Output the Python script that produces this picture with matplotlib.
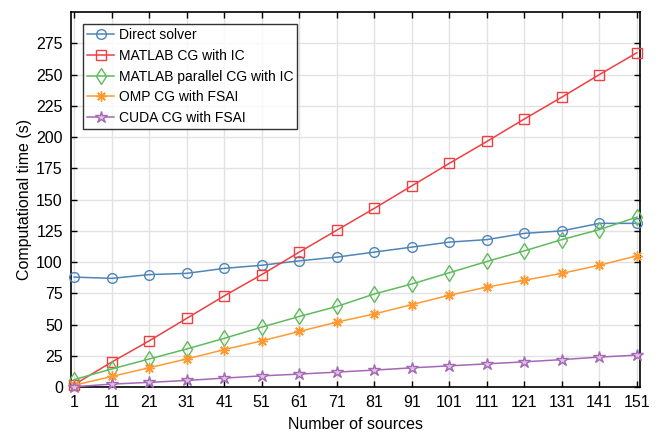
import matplotlib
matplotlib.use("Agg")
import matplotlib.pyplot as plt

plt.rcParams["font.family"] = ["Liberation Sans", "DejaVu Sans"]

# Number of sources on the x axis
sources = [1, 11, 21, 31, 41, 51, 61, 71, 81, 91, 101, 111, 121, 131, 141, 151]

# Computational time (s) per solver
direct = [88, 87, 90, 91, 95, 97.5, 101, 104, 108, 112, 116, 118, 123, 125, 131, 131]
matlab_ic = [2, 20, 37, 55, 73, 90, 108, 125.5, 143, 161, 179, 196.5, 214.5, 232, 250, 267.5]
matlab_par = [6, 14.5, 22.5, 30.5, 39, 48, 56.5, 64.5, 74.5, 82.5, 91.5, 100.5, 109, 118, 126, 136]
omp_fsai = [1.5, 8.5, 15.5, 22.5, 30, 37, 44.5, 52, 58.5, 66, 73.5, 80, 85.5, 91, 97.5, 105]
cuda_fsai = [0.3, 2.4, 3.8, 5.3, 7.2, 9, 10.4, 12, 13.6, 15.4, 17, 18.6, 20.2, 22, 24, 25.6]

series = [
    ("Direct solver", direct, "#4f85b8"),
    ("MATLAB CG with IC", matlab_ic, "#ee3f42"),
    ("MATLAB parallel CG with IC", matlab_par, "#5fbb5d"),
    ("OMP CG with FSAI", omp_fsai, "#ff9a33"),
    ("CUDA CG with FSAI", cuda_fsai, "#a468b5"),
]
marker_style = {
    "Direct solver": dict(marker="o", markersize=7, markerfacecolor="none"),
    "MATLAB CG with IC": dict(marker="s", markersize=6.5, markerfacecolor="none"),
    "MATLAB parallel CG with IC": dict(marker="d", markersize=8.5, markerfacecolor="none"),
    "OMP CG with FSAI": dict(marker=(8, 2, 0), markersize=7.5),
    "CUDA CG with FSAI": dict(marker="*", markersize=9, markerfacecolor="#dcc3e4"),
}

fig = plt.figure(figsize=(6.59, 4.33), dpi=100)
ax = fig.add_axes([0.108, 0.106, 0.863, 0.866])

for label, vals, color in series:
    ax.plot(sources, vals, color=color, linewidth=1.1, label=label,
            clip_on=False, zorder=3, markeredgewidth=1.0,
            **marker_style[label])

ax.set_xlim(0.2, 151.8)
ax.set_ylim(0, 300)
ax.set_xticks(sources)
ax.set_yticks(range(0, 300, 25))
ax.tick_params(direction="in", top=True, right=True, labelsize=11.5,
               length=4, width=1, pad=6)
for s in ax.spines.values():
    s.set_linewidth(1.2)
ax.grid(True, color="#e2e2e2", linewidth=1)
ax.set_axisbelow(True)

ax.set_xlabel("Number of sources", fontsize=11.5, labelpad=5)
ax.set_ylabel("Computational time (s)", fontsize=11.5, labelpad=3)

leg = ax.legend(loc="upper left", bbox_to_anchor=(0.02, 0.968),
                fontsize=10, frameon=True, fancybox=False,
                borderaxespad=0, handlelength=2.0, handletextpad=0.3,
                labelspacing=0.48, borderpad=0.3)
leg.get_frame().set_edgecolor("black")
leg.get_frame().set_linewidth(1)

fig.savefig("out.png", dpi=100)
